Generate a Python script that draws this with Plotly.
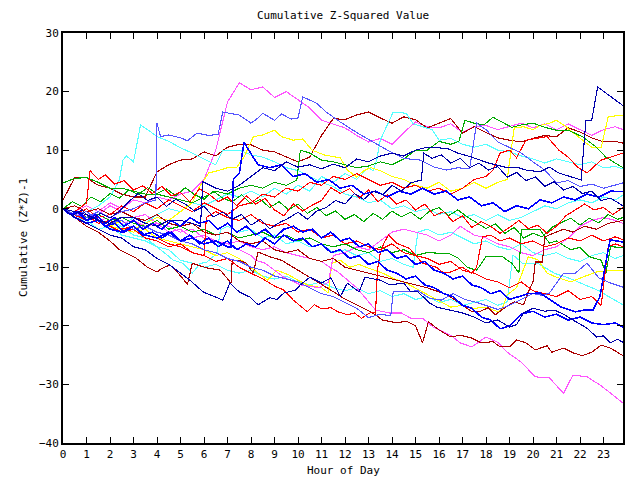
import plotly.graph_objects as go

# ---------------- data ----------------
HALF_HOURS = [i * 0.5 for i in range(48)] + [23.83]

M1_VALUES = [0, -0.5, 0.5, -0.5, 1, 0, 1.5, 1, 2, 1.5, 2.5, 3,
             5, 10, 18.2, 21.5,
             20.3, 20.8, 19, 20, 18.6, 17.2, 15.1, 14.5,
             13.8, 12.5, 11.4, 12, 11, 13, 14.8, 14,
             13.8, 14.5, 13, 14, 14.2, 13.5, 14, 14.6,
             13.8, 14.5, 13.5, 14.5, 13.5, 12.5, 13.5, 14,
             13.5]

DR1_VALUES = [1.5, 5.3, 5.3, 4, 3.5, 2.5, 2, 2, 6.3, 7.5, 8.3, 8.5,
              9.7, 9, 10.5, 11,
              10.9, 10, 9.7, 8.8, 8, 8.8, 12.5, 15.4,
              15.2, 16, 16.5, 15.5, 14.6, 15.7, 15.2, 13.8,
              14.6, 15.4, 12.9, 14, 13, 12.1, 11.7, 11.4,
              12, 12.5, 12.3, 13.8, 13.1, 12.1, 11.4, 11.5,
              11.2]

B2 = [(0,0),(0.5,-1),(1,-1.5),(1.5,-0.5),(2,-1.5),(2.5,-0.5),(3,0),(3.5,1),(3.95,1.5),(4.0,14.6),(4.15,12.3),
      (4.5,12.6),(5,12.1),(5.3,11.6),(5.7,12.9),(6.2,12.5),(6.6,12.7),(6.8,16.5),(7.5,16),(8,14.6),(8.3,15.5),
      (8.5,16.3),(9,15.1),(9.3,16.2),(9.7,15.3),(10,15.5),(10.2,19.1),(10.8,18),(11.2,16.5),(11.8,14.8),(12.5,13),
      (13.2,11.4),(13.8,10),(14.5,8.6),(15.2,8.3),(15.8,7.1),(16.3,6.6),(16.8,7),(17.3,6.8),(17.6,14.6),(18,13.5),
      (18.5,11.4),(19.5,9.5),(20,8),(20.5,6.6),(21,4.4),(21.5,4.8),(22,3.8),(22.5,4.2),(23,3.5),(23.83,4.4)]

C1 = [(0,0),(0.5,-1),(1,-0.5),(1.5,0.5),(2,2),(2.4,4.9),(2.55,8.3),(2.7,9),(3,8),(3.3,14.3),(3.6,13.5),(4,12.3),
      (4.5,11.5),(5,10.4),(5.5,9.5),(6,8.5),(6.5,7.5),(6.8,10),(7.5,10),(8,9.2),(8.5,8.8),(9,8),(9.5,7),(10,6.5),
      (10.5,5.5),(11,4.5),(11.5,3.8),(12,2.5),(12.5,2),(13,1),(13.5,1.5),(14,0),(14.5,0.5),(15,-0.5),(15.5,0),
      (16,-1),(16.5,-0.5),(17,-1.5),(17.5,-1),(18,-2),(18.5,-1),(19,-2),(19.5,-1.5),(20,-0.5),(20.5,0.5),(21,0),
      (21.5,1),(22,1.5),(22.5,1),(23,2),(23.5,1.5),(23.83,2.3)]

C2 = [(0,0),(0.5,-1.5),(1,-1),(1.5,-2.5),(2,-2),(2.5,-3),(3,-1.5),(3.5,-2.5),(4,-1),(4.5,0),(5,-0.5),(5.5,1),
      (6,0.5),(6.5,1.5),(7,2.5),(7.5,2),(8,3),(8.5,2),(9,3.5),(9.5,2.5),(10,4),(10.5,3),(11,5.5),(11.5,4.5),
      (12,6),(12.5,5),(13,7),(13.2,6.5),(13.35,8.3),(13.5,11.7),(14.05,16.5),(14.6,16.3),(14.9,14.5),(15.3,14),
      (15.7,13.5),(16,11.7),(16.5,12),(17,11),(17.5,10.5),(18,11),(18.5,10),(19,9.7),(19.5,9),(20,8.5),(20.5,7.8),
      (21,8.5),(21.5,8),(22,7.5),(22.5,8),(23,7),(23.5,7.2),(23.83,6.8)]

G1 = [(0,4.4),(0.5,5.2),(1,5.3),(1.5,4.5),(2,3.5),(2.5,3.5),(3,3),(3.5,2.5),(4,2.5),(4.5,2),(5,1.5),(5.5,1),
      (6,2),(6.5,3),(7,2.5),(7.5,3.5),(8,4),(8.5,3.5),(9,4.5),(9.5,4),(9.95,4.9),(10.1,10),(10.5,9.5),(11,8.3),
      (11.5,8),(12,7.5),(12.5,7),(13,7.3),(13.5,8),(14,7.5),(14.5,8.5),(15,10),(15.5,10),(16,11.5),(16.5,11),
      (16.85,11.5),(17.1,15.1),(17.5,14.6),(17.9,14.3),(18.3,15.6),(18.7,14.8),(19.1,13.9),(19.5,14.3),(20,14.6),
      (20.5,13.9),(21,13.4),(21.5,13.4),(22.1,12.3),(22.7,10.5),(23.1,8.8),(23.5,7.8),(23.83,7)]

DB1 = [(0,0),(0.5,-0.5),(1,-1),(1.5,-2),(2,-2.5),(2.5,-1.5),(3,-1.5),(3.5,-2.5),(4,-3),(4.5,-2),(5,-2),(5.5,-2.5),
       (5.85,-3),(5.95,4.6),(6.5,3.5),(7,3),(7.5,4),(8,5.5),(8.5,7),(9,6.5),(9.5,8),(10,7.1),(10.5,7.5),(11,6.8),
       (11.5,7.6),(12,7),(12.5,8.5),(13,8),(13.5,9),(14,9.5),(14.5,9),(15,10),(15.5,10.5),(16,10.4),(16.4,10.2),
       (16.8,9.5),(17.4,8.8),(18.1,7.8),(18.8,7.1),(19.3,7.1),(19.7,6.6),(20.3,6.3),(20.7,7.1),(21.1,6.1),(21.6,5.4),
       (22.05,4.9),(22.25,15.1),(22.5,15.1),(22.75,20.8),(23.3,19.2),(23.83,17.6)]

Y1 = [(0,0),(0.5,-1),(1,-2),(1.5,-1.5),(2,-3),(2.5,-2),(3,-3.5),(3.5,-2.5),(4,-1.5),(4.5,-2),(5,-0.5),(5.5,1),
      (5.8,3.7),(6.2,6.1),(6.6,6.5),(7,7),(7.4,7.1),(7.7,8.8),(8.1,12.3),(8.5,12.6),(9,13.4),(9.3,12.3),(9.8,11.7),
      (10.2,11.9),(10.6,10),(11.1,9.2),(11.5,8.9),(11.8,8.7),(12.1,6.6),(12.5,5.4),(12.8,6.5),(13.1,7),(13.5,6.5),
      (14,5.5),(14.5,5),(15,4),(15.5,3.5),(16,4.5),(16.5,3),(17,3.5),(17.5,4.5),(18,3.5),(18.5,4.5),(18.9,5),
      (19.2,13.8),(19.6,14),(20,13.5),(20.3,14.2),(20.7,14.6),(21,15.1),(21.4,14),(21.9,12.3),(22.2,11.4),
      (22.5,10.5),(22.9,10.4),(23.2,15.7),(23.83,16)]

R1 = [(0,0),(0.5,-1),(1,0),(1.5,-1.5),(2,-1),(2.5,0.5),(3,-0.5),(3.5,1),(4,0),(4.5,1.5),(5,0.5),(5.5,-0.5),
      (6,1),(6.5,0),(7,-1),(7.5,0.5),(8,1),(8.5,2.5),(9,2),(9.5,3.5),(10,3),(10.5,4.5),(11,4),(11.5,5.5),(12,5),
      (12.5,6),(13,5),(13.5,4),(14,4.5),(14.5,3.5),(15,4),(15.5,3),(16,3.5),(16.5,2.5),(17,3.5),(17.5,5),(18,5.5),
      (18.3,6.6),(18.6,9.5),(19,10),(19.3,8.7),(19.7,11.7),(20.1,12),(20.6,12.3),(21.1,10),(21.5,8.8),(21.9,7.1),
      (22.3,6.1),(22.9,8.3),(23.3,8.8),(23.83,9.5)]

B3 = [(0,0),(0.5,-1.5),(1,-2.5),(1.5,-2),(2,-3.5),(2.5,-4),(3,-3),(3.5,-4.5),(4,-5),(4.5,-4),(5,-5.5),(5.5,-5),
      (6,-6),(6.5,-5.5),(7,-6.5),(7.15,-6.5),(7.25,5),(7.5,6),(7.7,11.3),(8,9.5),(8.3,7.5),(8.8,7),(9.3,7.5),
      (9.8,5.5),(10.3,6),(10.8,4.5),(11.3,5),(11.8,3.5),(12.3,4),(12.8,2.5),(13.3,3),(13.8,2),(14.3,3),(14.8,2.5),
      (15.3,3.5),(15.8,2.5),(16.3,3),(16.8,1.5),(17.3,2),(17.8,0.5),(18.3,1),(18.8,-0.5),(19.3,0.5),(19.8,0),
      (20.3,1.5),(20.8,1),(21.3,2),(21.8,1.5),(22.3,2.5),(22.8,2),(23.3,3),(23.83,2.9)]

B4 = [(0,0),(0.3,-1),(0.6,-0.5),(1,-2),(1.4,-1),(1.8,-2.5),(2.2,-1.5),(2.6,-3),(3,-2),(3.4,-3.5),(3.8,-2.5),
      (4.2,-3.5),(4.6,-2),(5,-3),(5.4,-1.5),(5.8,-2.5),(6.2,-2),(6.6,-3.5),(7,-2.5),(7.4,-4),(7.8,-3),(8.2,-4.5),
      (8.6,-3.5),(9,-5),(9.4,-3.5),(9.8,-3),(10.2,-4),(10.6,-3.5),(11,-5),(11.4,-4),(11.8,-5.5),(12.2,-5),
      (12.6,-6.5),(13,-6),(13.4,-7.5),(13.8,-7),(14.2,-8.5),(14.6,-8),(15,-9.5),(15.4,-9),(15.8,-10.5),(16.2,-11),
      (16.6,-12),(17,-11.5),(17.4,-13),(17.8,-13.5),(18.2,-14.5),(18.6,-14),(19,-15.5),(19.4,-15),(19.8,-14.5),
      (20.3,-14.4),(20.7,-15.5),(21.2,-16.8),(21.8,-17.6),(22.2,-17.3),(22.55,-17.3),(22.85,-15),(23.06,-10),
      (23.28,-5.3),(23.83,-5.7)]

DR2 = [(0,0),(0.5,-1.5),(1,-3),(1.5,-4),(2,-5.5),(2.4,-7),(3.1,-8.4),(3.6,-10),(4,-10.8),(4.2,-10.2),(4.55,-9.6),
       (4.9,-11),(5.3,-12.9),(5.5,-9.3),(6.1,-10.1),(6.7,-10.5),(7.15,-12.7),(7.2,-8.8),(7.5,-8.8),(7.8,-9.3),
       (8.1,-11),(8.3,-7.4),(8.8,-8.2),(9.3,-8.8),(9.8,-10),(10.2,-11),(10.8,-12.5),(11.4,-13.9),(11.9,-15.2),
       (12.5,-16.4),(13.1,-17.6),(13.6,-19),(14.2,-19.5),(14.6,-19.2),(15.0,-20),(15.3,-22.9),(15.55,-19.3),
       (16.0,-20.7),(16.5,-21.9),(16.9,-21.6),(17.4,-22.1),(17.8,-22.9),(18.3,-22.7),(18.6,-23.6),(19.0,-23.6),
       (19.3,-22.4),(19.7,-22.9),(20.1,-24.1),(20.6,-23.4),(20.8,-24.5),(21.3,-23.8),(21.7,-24.6),(22.1,-25.1),
       (22.5,-24.5),(22.9,-23.3),(23.3,-23.8),(23.83,-25.1)]

M2 = [(0,0),(0.5,-1),(1,-0.5),(1.5,-2),(2,-1.5),(2.5,-2.5),(3,-2),(3.5,-3),(4,-2.5),(4.5,-4),(5,-3.5),(5.5,-5),
      (6,-4.5),(6.5,-5.5),(7,-6),(7.5,-5.5),(8,-6.5),(8.5,-7),(9,-6.5),(9.5,-7.5),(10,-8),(10.5,-8.5),(11,-9),
      (11.4,-10.1),(11.7,-10.8),(12.5,-13.5),(13.3,-17.3),(13.9,-17.8),(14.4,-17.8),(14.8,-18.7),(15.3,-18.7),
      (15.75,-20.2),(16.2,-21),(16.5,-21.6),(16.9,-22.9),(17.4,-23.6),(18,-21.9),(18.5,-22.8),(18.9,-24.5),
      (19.5,-26.2),(20.1,-28.7),(20.7,-28.9),(21.3,-31.5),(21.7,-28.4),(22.3,-28.7),(22.85,-30.1),(23.4,-31.8),
      (23.83,-33.2)]

B5 = [(0,0),(0.5,-1.5),(1,-2.5),(1.5,-3.5),(2,-4.5),(2.5,-5),(3,-6.5),(3.5,-7),(4,-8.5),(4.5,-9.5),(5,-11),
      (5.4,-12.2),(5.96,-14.2),(6.8,-15.6),(7.1,-12.7),(7.5,-14.2),(7.96,-15.1),(8.3,-16.4),(8.8,-15.2),(9.1,-15.5),
      (9.4,-14.4),(9.9,-13.9),(10.1,-13),(10.5,-11.7),(11,-12.7),(11.4,-11.8),(11.8,-15),(12.1,-12.7),(12.6,-14.2),
      (12.85,-11.7),(13.5,-12.2),(13.9,-13),(14.5,-12.7),(14.8,-14.2),(15.1,-14.2),(15.6,-16.1),(15.9,-16.8),
      (16.5,-17.3),(17,-17.8),(17.5,-18.5),(18,-19.5),(18.5,-19),(19,-20.2),(19.3,-19.8),(19.6,-17.8),(20,-17),
      (20.5,-17.5),(20.9,-17.3),(21.3,-18),(21.7,-19),(22.3,-20.4),(22.7,-21.9),(23,-21.7),(23.3,-22.9),
      (23.6,-22.3),(23.83,-22.8)]

B6 = [(0,0),(0.3,-1),(0.7,-0.5),(1,-2),(1.4,-1.5),(1.8,-3),(2.2,-2.5),(2.6,-4),(3,-3),(3.4,-4.5),(3.8,-4),
      (4.2,-5),(4.6,-4),(5,-5.5),(5.4,-4.5),(5.8,-6),(6.2,-5),(6.6,-6.5),(7,-5.5),(7.4,-7),(7.8,-6),(8.2,-6.5),
      (8.6,-5),(9,-6),(9.4,-4.5),(9.8,-5.5),(10.2,-5),(10.6,-6.5),(11,-6),(11.4,-7.5),(11.8,-7),(12.2,-8.5),
      (12.6,-8),(13,-9.5),(13.4,-9),(13.8,-10.5),(14.2,-11),(14.6,-12),(15,-11.5),(15.4,-13),(15.8,-13.5),
      (16.2,-14.5),(16.6,-15),(17,-16.5),(17.4,-17),(17.8,-18.5),(18.2,-19),(18.6,-20.5),(19,-20),(19.5,-18),
      (20,-17.5),(20.5,-18.5),(21,-18),(21.5,-19),(22,-18.5),(22.5,-19.5),(23,-19.8),(23.5,-19.5),(23.83,-20.2)]

C3 = [(0,0),(0.5,-1.5),(1,-2),(1.5,-3.5),(2,-3),(2.5,-4.5),(3,-5),(3.5,-5.5),(4,-6.5),(4.5,-7),(5,-8.8),(5.5,-9.3),
      (6,-10),(6.5,-9.5),(7,-10.5),(7.5,-11),(8,-10.5),(8.5,-11.5),(9,-12),(9.5,-11.5),(10,-12.5),(10.5,-13),
      (11,-12.5),(11.5,-13.5),(12,-14),(12.5,-13.5),(13,-14.5),(13.5,-14),(14,-15),(14.5,-14.5),(15,-15.5),
      (15.5,-15),(16,-16),(16.5,-15.5),(17,-16.5),(17.5,-16),(18,-15.5),(18.5,-16.5),(18.9,-15.9),(19.15,-7.9),
      (19.55,-9.3),(20.2,-9.3),(20.9,-11),(21.5,-11.8),(22.2,-13),(22.8,-14),(23.3,-15.2),(23.83,-16.4)]

Y3 = [(0,0),(0.5,-1),(1,-2),(1.5,-1.5),(2,-3),(2.5,-3.5),(3,-4),(3.5,-3.5),(4,-5),(4.5,-5.5),(5,-6),(5.5,-6.5),
      (6,-7),(6.5,-8),(7,-7.5),(7.5,-8.5),(8,-10),(8.3,-11),(8.7,-12.2),(9.1,-10.5),(9.6,-11.3),(10,-12.2),
      (10.4,-13),(11,-13.5),(11.3,-14.4),(11.35,-12.2),(11.45,-9.3),(11.8,-8.8),(12.2,-10),(12.6,-9.5),(12.9,-10),
      (13.6,-11),(14,-11.8),(14.6,-12.7),(15.3,-14.2),(15.9,-15.6),(16.5,-16.8),(17,-16.5),(17.5,-17),(18,-16.8),
      (18.5,-17.6),(18.7,-17),(18.9,-14.7),(19.3,-13.5),(19.8,-8.2),(20.2,-8.7),(20.6,-11),(21,-11.7),(21.6,-12.5),
      (22.1,-11.7),(22.7,-10.8),(23.3,-10.5),(23.83,-10.5)]

MB3 = [(0,0),(0.5,-1),(1,-0.5),(1.5,-2),(2,-2.5),(2.5,-2),(3,-3.5),(3.5,-3),(4,-4),(4.5,-4.5),(5,-5.5),(5.5,-6),
       (6,-7),(6.5,-7.5),(7,-8.5),(7.5,-9),(8,-10),(8.5,-10.5),(9,-11.5),(9.5,-12),(10,-12.5),(10.5,-13.5),
       (11,-14.5),(11.5,-15),(12,-16),(12.5,-17),(13,-18.6),(13.5,-18),(13.95,-18.3),(14.05,-14.2),(14.6,-14.2),
       (15.1,-14),(15.6,-15.3),(16.1,-15.6),(16.6,-14.5),(17.1,-15.5),(17.6,-16),(18,-16.5),(18.5,-17.2),(19,-16.5),
       (19.5,-15.5),(20,-14.5),(20.4,-14.8),(20.7,-14.4),(21.3,-11),(21.8,-11),(22.3,-9.3),(22.8,-11.8),
       (23.3,-12.7),(23.83,-13.4)]

R2 = [(0,0),(0.5,-1),(1,-2),(1.5,-1.5),(2,-3),(2.5,-4),(3,-3.5),(3.5,-5),(4,-5.5),(4.5,-6.5),(5,-6),(5.5,-7.5),
      (6,-8),(6.5,-9),(7,-8.5),(7.5,-10),(8,-11),(8.5,-12),(9.0,-13.2),(9.4,-13.9),(9.8,-15.6),(10.2,-17),
      (10.4,-17.6),(10.7,-16.4),(11,-17.1),(11.4,-16.9),(11.7,-17.6),(12.1,-18.1),(12.4,-17.8),(12.7,-18.7),
      (13.1,-17.7),(13.3,-17.8),(13.38,-10.5),(13.5,-7.6),(13.65,-5.9),(13.85,-4.5),(14.2,-5.9),(14.75,-6.8),
      (15.3,-9.3),(15.9,-10),(16.2,-11),(16.5,-10.8),(17,-10),(17.4,-11),(17.6,-10),(17.85,-4.8),(18.2,-4.5),
      (18.6,-5.5),(19,-5),(19.5,-6),(20,-5.5),(20.5,-6.5),(21,-6),(21.5,-5),(22,-5.5),(22.5,-4.5),(23,-5.5),
      (23.5,-4.8),(23.83,-5.3)]

R3 = [(0,0),(0.5,-1.5),(1,-1),(1.5,-2.5),(2,-2),(2.5,-3.5),(3,-3),(3.5,-4.5),(4,-5),(4.5,-6),(5,-6.5),(5.5,-7.5),
      (6,-8),(6.1,-1.5),(6.5,-0.5),(7,-1.5),(7.5,-2),(8,-1),(8.5,-2.5),(9,-3),(9.5,-2.5),(10,-4),(10.5,-3.5),
      (11,-5),(11.5,-4.5),(12,-6),(12.5,-5.5),(13,-6.5),(13.5,-7),(14,-6),(14.5,-7.5),(15,-8),(15.5,-8.5),
      (16,-9.5),(16.5,-9),(17,-10.5),(17.5,-11),(18,-12),(18.5,-12.5),(19,-13.5),(19.5,-12.5),(20,-14),
      (20.5,-14.5),(21,-15),(21.5,-14),(22,-15.5),(22.5,-15),(22.9,-16.5),(23.2,-6.5),(23.5,-6),(23.83,-6.5)]

G2 = [(0,0),(0.5,-0.5),(1,-1.5),(1.5,-1),(2,-2),(2.5,-1.5),(3,-2.5),(3.5,-3),(4,-2),(4.5,-3.5),(5,-3),(5.5,-4),
      (6,-3.5),(6.5,-4.5),(7,-4),(7.5,-5),(8,-4.5),(8.5,-4),(9,-5),(9.5,-4.5),(10,-5.5),(10.5,-5),(11,-6),
      (11.5,-6.5),(12,-6),(12.5,-7),(13,-7.5),(13.5,-6.5),(14,-7.5),(14.5,-7),(15,-8),(15.5,-7.5),(16,-7.6),
      (16.4,-7.6),(16.8,-8.4),(17.2,-10),(17.6,-10.5),(18,-8.2),(18.3,-8.2),(18.7,-8.2),(19.1,-9.3),(19.4,-11),
      (19.5,-3.6),(20.3,-3.6),(20.7,-5.9),(21,-5.5),(21.6,-7),(22,-6.6),(22.4,-8.2),(22.9,-8.8),(23.1,-11),
      (23.3,-6.5),(23.83,-6.6)]

G3 = [(0,0),(0.4,1.2),(0.8,0.4),(1.2,2),(1.6,1.2),(2,2.6),(2.4,1.8),(2.8,3.2),(3.2,2.4),(3.6,3.6),(4,2.6),
      (4.4,3.4),(4.8,2.2),(5.2,3.6),(5.6,2.4),(6,1.6),(6.4,3),(6.8,1.8),(7.2,1.2),(7.6,2.4),(8,0.8),(8.4,1.6),
      (8.8,0.2),(9.2,1.2),(9.6,-0.2),(10,0.8),(10.4,-0.8),(10.8,0.2),(11.2,-1.2),(11.6,-0.4),(12,-1.8),(12.4,-1),
      (12.8,-2.2),(13.2,-0.8),(13.6,-1.8),(14,-0.4),(14.4,-1.4),(14.8,-0.6),(15.2,-1.8),(15.6,-0.4),(16,0.2),
      (16.4,-1.2),(16.8,-0.2),(17.2,-1.4),(17.6,-2.4),(18,-3.4),(18.4,-2.6),(18.8,-4.2),(19.2,-3.2),(19.6,-5),
      (20,-4.2),(20.4,-4.8),(20.8,-3.2),(21.2,-2.4),(21.6,-1.6),(22,-2.8),(22.4,-1.6),(22.8,-2.4),(23.2,-1),
      (23.6,-1.8),(23.83,-1.5)]

R4 = [(0,0),(0.5,-0.5),(1,1),(1.15,6.5),(1.5,5),(1.8,5.8),(2.2,4.2),(2.6,4.8),(3,3.2),(3.4,3.9),(3.8,2.6),
      (4.2,3.8),(4.6,2.2),(5,2.8),(5.4,1.2),(5.8,3.4),(6.2,2.5),(6.6,1.2),(7,2),(7.4,0.5),(7.8,2.2),(8.2,0.8),
      (8.6,1.8),(9,-0.2),(9.4,-1.2),(9.8,0.8),(10.2,-0.4),(10.6,0.6),(11,1.4),(11.4,3.6),(11.8,2.6),(12.2,3.4),
      (12.6,1.8),(13,3.2),(13.4,1.2),(13.8,2.4),(14.2,0.8),(14.6,1.5),(15,-0.2),(15.4,0.8),(15.8,-1.2),(16.2,-0.5),
      (16.6,-2.2),(17,-1.2),(17.4,-3.2),(17.8,-2.2),(18.2,-3),(18.6,-4.2),(19,-3.2),(19.4,-2),(19.8,-3.4),
      (20.2,-2.8),(20.6,-4.2),(21,-3),(21.4,-1.2),(21.8,-0.2),(22.2,0.8),(22.6,-0.2),(23,0.2),(23.4,-1),(23.83,0.2)]

B7 = [(0,0),(0.4,-1.2),(0.8,-0.2),(1.2,-1.8),(1.6,-0.8),(2,-1.6),(2.4,-0.4),(2.8,1.2),(3.2,2.6),(3.6,1.4),(4,2),
      (4.4,0.4),(4.8,1.6),(5.2,0.8),(5.6,-0.4),(6,0.4),(6.4,-1.4),(6.8,-0.6),(7.2,-1.8),(7.6,-1),(8,-2.8),
      (8.4,-1.8),(8.8,-3.4),(9.2,-2.4),(9.6,-1.6),(10,-0.6),(10.4,-1.8),(10.8,-0.4),(11.2,0.2),(11.6,1.4),(12,0.8),
      (12.4,2.6),(12.8,1.6),(13.2,3),(13.6,2.4),(14,4),(14.4,3),(14.8,4.4),(15.25,4.9),(15.35,9.5),(15.7,8.6),
      (16.1,9.2),(16.5,7.8),(16.9,8.6),(17.3,7),(17.7,7.8),(18.1,6.6),(18.5,7.2),(18.9,5.4),(19.3,6.2),(19.7,4.8),
      (20.1,5.4),(20.5,3.8),(20.9,4.6),(21.3,3.2),(21.7,3.8),(22.1,2.6),(22.5,3),(22.9,1.4),(23.3,1.8),(23.83,0.5)]

C4 = [(0,0),(0.5,-1),(1,-2.5),(1.5,-2),(2,-3.5),(2.5,-3),(3,-4.5),(3.5,-5),(4,-6.5),(4.3,-7.5),(4.7,-8.8),
      (5.1,-9.3),(5.5,-11),(5.85,-9.3),(6.1,-9.2),(6.55,-7.6),(6.7,-3.6),(7,-3),(7.5,-4),(8,-3.5),(8.5,-5),
      (9,-4.5),(9.5,-6),(10,-5.5),(10.5,-6.5),(11,-6),(11.5,-7.5),(12,-7),(12.5,-8),(13,-7.5),(13.5,-9),(14,-8.5),
      (14.5,-9.5),(14.9,-10),(15.1,-4),(15.5,-3.5),(16,-4.5),(16.5,-4),(17,-5),(17.5,-6),(18,-5.5),(18.5,-6.5),
      (19,-7),(19.5,-6),(20,-7.5),(20.5,-8),(21,-7.5),(21.5,-8.5),(22,-9),(22.5,-8),(23,-7.5),(23.5,-8.5),
      (23.83,-8)]

M3 = [(0,0),(0.5,-0.5),(1,-2),(1.5,-1),(2,0.5),(2.5,-0.5),(3,-1.5),(3.5,-1),(4,-2.5),(4.5,-3),(5,-4),(5.5,-3.5),
      (6,-5),(6.5,-5.5),(7,-6),(7.5,-7),(8,-8),(8.2,-8.8),(8.6,-9.3),(9,-10.5),(9.4,-11.7),(10.1,-13),(10.9,-13.5),
      (11.3,-12.5),(11.5,-8),(12,-7.5),(12.5,-6.5),(13,-7),(13.5,-5.5),(14,-4),(14.5,-3.5),(15,-4),(15.5,-4.5),
      (16,-5.5),(16.5,-4.5),(16.9,-3),(17.5,-4.5),(18,-5),(18.5,-6),(19,-6.5),(19.5,-7.5),(20,-8),(20.5,-7),
      (21,-6.5),(21.5,-5),(22,-3),(22.5,-2),(23,-1.5),(23.5,-2),(23.83,-2.5)]

DR3 = [(0,0),(0.5,0.5),(1,-0.5),(1.5,0),(2,-1),(2.5,-0.5),(3,-1.5),(3.5,-2),(4,-1),(4.5,-2.5),(5,-3),(5.5,-2.5),
       (6,-4),(6.5,-4.5),(7,-4),(7.5,-5.5),(8,-6),(8.5,-5.5),(9,-7),(9.5,-7.5),(10,-7),(10.5,-8.5),(11,-9),
       (11.5,-8.5),(12,-10),(12.5,-10.5),(13,-11),(13.5,-11.5),(14,-12),(14.5,-12.5),(15,-13),(15.5,-13.5),
       (16,-14.2),(16.4,-14.8),(16.8,-15.9),(17.4,-17.6),(17.7,-17.6),(18.1,-16.9),(18.4,-18.1),(18.8,-16.9),
       (19.2,-15.9),(19.6,-16.4),(19.8,-14.2),(20.0,-12.5),(20.1,-9.1),(20.4,-9.1),(20.5,-4.8),(20.9,-4.1),
       (21.3,-3.5),(21.7,-4),(22.2,-3),(22.7,-3.5),(23.2,-2.5),(23.83,-2)]

X_TICKS = list(range(0, 24))
Y_TICKS = [-40, -30, -20, -10, 0, 10, 20, 30]

# ---------------- styling ----------------
RED, DRED, GREEN = "#ff0000", "#aa0000", "#00aa00"
BLUE, MBLUE, CYAN = "#0000ff", "#5555ff", "#55ffff"
MAGENTA, YELLOW, DBLUE = "#ff55ff", "#ffff00", "#0000aa"

SERIES = [
    (C1, CYAN), (C2, CYAN), (C3, CYAN), (C4, CYAN),
    (Y1, YELLOW), (Y3, YELLOW),
    (M2, MAGENTA), (M3, MAGENTA),
    (G2, GREEN), (G3, GREEN), (G1, GREEN),
    (DR2, DRED), (DR3, DRED),
    (R1, RED), (R2, RED), (R3, RED), (R4, RED),
    (MB3, MBLUE), (B2, MBLUE),
    (B4, BLUE), (B6, BLUE), (B3, BLUE),
    (B5, DBLUE), (B7, DBLUE), (DB1, DBLUE),
]

fig = go.Figure()

fig.add_trace(go.Scatter(x=HALF_HOURS, y=M1_VALUES, mode="lines",
                         line=dict(color=MAGENTA, width=1.1)))
fig.add_trace(go.Scatter(x=HALF_HOURS, y=DR1_VALUES, mode="lines",
                         line=dict(color=DRED, width=1.1)))
for pts, col in SERIES:
    xs = [p[0] for p in pts]
    ys = [p[1] for p in pts]
    w = 1.6 if col == BLUE else 1.1
    fig.add_trace(go.Scatter(x=xs, y=ys, mode="lines", line=dict(color=col, width=w)))

FONT = "DejaVu Sans Mono"
axis_common = dict(showline=True, linecolor="black", linewidth=2, mirror="ticks",
                   ticks="inside", ticklen=6, tickwidth=1, tickcolor="black",
                   showgrid=False, zeroline=False,
                   tickfont=dict(family=FONT, size=11, color="black"))

fig.update_layout(
    width=640, height=480,
    margin=dict(l=63, r=17, t=33, b=37),
    paper_bgcolor="white", plot_bgcolor="white",
    showlegend=False,
    font=dict(family=FONT, size=11, color="black"),
    xaxis=dict(range=[0, 23.83], tickvals=X_TICKS, **axis_common),
    yaxis=dict(range=[-40, 30], tickvals=Y_TICKS, **axis_common),
    annotations=[
        dict(text="Cumulative Z-Squared Value", xref="paper", yref="paper",
             x=0.5, y=1 + 17 / 410, xanchor="center", yanchor="middle",
             showarrow=False, font=dict(family=FONT, size=11)),
        dict(text="Hour of Day", xref="paper", yref="paper",
             x=0.5, y=-(470 - 443) / 410, xanchor="center", yanchor="middle",
             showarrow=False, font=dict(family=FONT, size=11)),
        dict(text="Cumulative (Z*Z)-1", xref="paper", yref="paper",
             x=(23 - 63) / 560, y=(443 - 238) / 410, xanchor="center", yanchor="middle",
             textangle=-90, showarrow=False, font=dict(family=FONT, size=11)),
    ],
)

fig.write_html("out.html",
               post_script="document.querySelectorAll('.scatterlayer path').forEach(function(p){p.style.shapeRendering='crispEdges';});")
